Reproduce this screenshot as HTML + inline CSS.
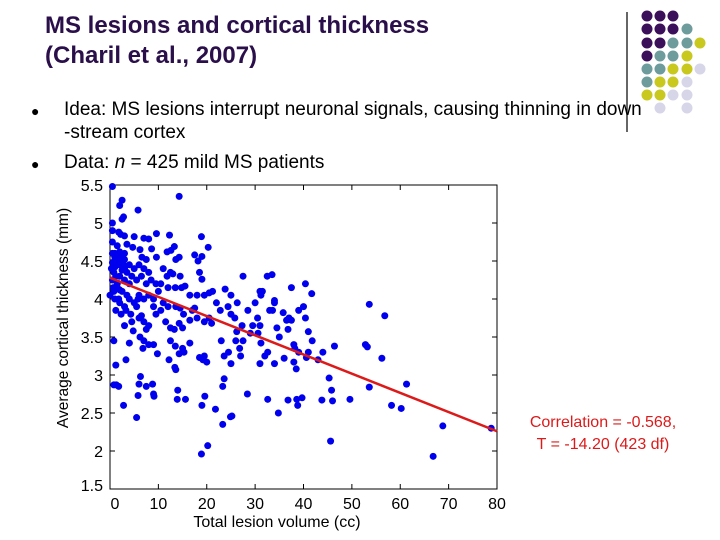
<!DOCTYPE html>
<html><head><meta charset="utf-8"><style>
body{margin:0;width:720px;height:540px;background:#fff;overflow:hidden;position:relative;font-family:"Liberation Sans",sans-serif}
.t{position:absolute;color:#2a0f4a;font-weight:bold;font-size:24px;left:45px;line-height:30px}
.b{position:absolute;font-size:19px;color:#000;line-height:22px}
</style></head><body>
<div class="t" style="top:11px">MS lesions and cortical thickness<br>(Charil et al., 2007)</div>
<div class="b" style="left:31px;top:99px;width:660px"><span style="position:absolute;left:0;font-size:14px;top:1px">●</span><span style="position:absolute;left:33px;white-space:nowrap">Idea: MS lesions interrupt neuronal signals, causing thinning in down</span><span style="position:absolute;left:33px;top:23px;white-space:nowrap">-stream cortex</span></div>
<div class="b" style="left:31px;top:152px;white-space:nowrap"><span style="position:absolute;left:0;font-size:14px;top:1px">●</span><span style="position:absolute;left:33px">Data: <i>n</i> = 425 mild MS patients</span></div>
<svg id="deco" width="720" height="540" style="position:absolute;left:0;top:0"></svg>
<svg id="chart" width="720" height="540" style="position:absolute;left:0;top:0"></svg>
<script>
const ptsX=[0.5,14.3,2.5,2,5.8,2.8,0.5,2.5,0.5,1.8,2.2,3,5,7,8,9.6,12.3,18.9,0.5,1.5,3.5,4.7,6.2,8.6,11.8,13.3,20.3,12.6,17.5,18.2,19,9.6,13.6,14.3,6.6,7.5,0.5,1,1.5,2,2.5,3,3.5,4,5,6,7,8,0.3,0.8,1.2,0.5,2,3,4.5,5.5,6.5,7.5,8.5,9.5,11,11.8,12.5,13,14.5,18.5,19,0,0.8,1.5,2.5,3.5,1,2,3,4,5,6,7,8,9,10,11,12,13.5,14.8,15.5,10.5,9,5.8,1.2,2.3,3.3,4.3,5.5,3,4.5,6,7,8,6.5,7.5,9.5,10.5,11.5,12.5,13.3,14.3,15,16.5,17,18,19.5,20.5,21,17.5,16.5,18,19.5,20.5,21.2,14.5,15.2,13.6,12,4.8,6.2,7,8,9,6.8,4,0.8,3.3,1.2,9.8,12.2,12.5,13.5,14.3,15,15.3,16.5,13.4,13.6,18.5,19.2,20,19.5,0.8,1.3,1.8,6.3,6,7.5,8.8,9,9.1,5.8,14,13.9,15.6,19.6,19,2.8,5.5,21.8,23.6,23.3,23.3,24.9,25.2,18.9,20.2,23,23.6,24.5,25,22.8,22,23.8,24.4,25,25.8,25,26.3,26.2,26,26.8,27,27.3,27.5,27.5,28.5,29,29.5,30,30.5,30.6,31,31.2,31.5,31,31.2,31,32,32.6,32.5,33.5,33,33.6,34,34,34,34.5,35,28.4,32.6,34.8,35.8,36,36.5,36.8,37,37.5,37.5,38,38,38.5,39,38.2,39,40,40.4,40.4,40.6,41,41,41.7,41.8,43,44,36.8,38.6,38.8,39.7,43.8,45.3,45.8,46,46.4,45.6,49.6,52.8,53.2,53.6,53.6,56.2,56.8,58.2,60.2,61.3,66.8,68.8,78.8,1,2,3,1.5,2.5,0.5,1,2,3,1.5,4,2,0.7,1.8,2.8];
const ptsY=[5.48,5.35,5.3,5.23,5.17,5.08,5.0,5.05,4.9,4.88,4.85,4.83,4.82,4.8,4.79,4.86,4.84,4.82,4.75,4.7,4.72,4.68,4.65,4.66,4.62,4.69,4.68,4.64,4.58,4.5,4.56,4.55,4.52,4.55,4.55,4.52,4.6,4.55,4.5,4.45,4.5,4.4,4.35,4.45,4.4,4.45,4.4,4.35,4.4,4.35,4.3,4.25,4.3,4.25,4.3,4.25,4.3,4.2,4.25,4.2,4.4,4.3,4.35,4.33,4.3,4.35,4.26,4.05,4.1,4.15,4.1,4.05,4.0,3.95,3.9,4.0,3.95,4.05,4.0,4.05,4.0,4.1,3.95,4.15,4.15,4.15,4.17,4.2,3.9,4.0,3.85,3.8,3.85,3.8,3.9,3.65,3.7,3.75,3.7,3.65,3.78,3.6,3.8,3.85,3.7,3.62,3.6,3.68,3.62,3.72,3.85,3.75,3.7,3.75,3.68,3.88,4.05,4.05,4.05,4.08,4.1,3.88,3.8,3.9,3.9,3.58,3.5,3.45,3.4,3.4,3.35,3.42,3.45,3.2,3.13,3.28,3.2,3.45,3.38,3.28,3.35,3.3,3.42,3.1,3.07,3.23,3.2,3.17,3.25,2.87,2.87,2.85,2.98,2.88,2.85,2.88,2.75,2.72,2.73,2.8,2.68,2.68,2.72,2.6,2.6,2.44,2.55,2.95,2.85,2.35,2.45,2.46,1.96,2.07,3.45,3.25,3.3,3.15,3.85,3.95,4.13,3.9,3.8,3.75,4.05,3.95,3.57,3.45,3.35,3.25,3.65,3.45,4.3,3.85,3.55,3.65,3.95,3.75,3.55,4.1,4.05,4.1,3.65,3.42,3.15,3.25,3.3,4.3,4.32,3.85,3.85,3.98,3.95,3.15,3.62,3.5,2.75,2.68,2.5,3.82,3.22,3.72,3.6,3.75,3.72,4.15,3.4,3.17,3.08,3.85,3.35,3.3,3.9,4.2,3.75,3.23,3.3,3.57,4.07,3.45,3.2,3.3,2.67,2.68,2.6,2.7,2.67,2.96,2.8,2.66,3.38,2.13,2.68,3.4,3.37,3.93,2.84,3.22,3.78,2.6,2.56,2.88,1.93,2.33,2.3,4.6,4.55,4.6,4.45,4.38,4.48,4.42,4.62,4.52,4.2,4.2,4.12,4.15,4.0,4.45];
const fitX=[0,80];
const fitY=[4.28,2.26];
const xTicks=[0,10,20,30,40,50,60,70,80];
const yTicks=[1.5,2,2.5,3,3.5,4,4.5,5,5.5];
const yTickLabels=["1.5","2","2.5","3","3.5","4","4.5","5","5.5"];
const NS="http://www.w3.org/2000/svg";
const L=110,R=497,T=185,B=489;
const sx=v=>L+(v-0)/80*(R-L), sy=v=>B-(v-1.5)/4*(B-T);
const svg=document.getElementById('chart');
function mk(tag,at,p){const e=document.createElementNS(NS,tag);for(const k in at)e.setAttribute(k,at[k]);(p||svg).appendChild(e);return e;}
let e=mk('rect',{x:L,y:T,width:R-L,height:B-T,fill:'none',stroke:'#000','stroke-width':1});


xTicks.forEach(v=>{const x=sx(v);
 let t=mk('line',{x1:x,x2:x,y1:B,y2:B-5,stroke:'#000'});
 t=mk('line',{x1:x,x2:x,y1:T,y2:T+5,stroke:'#000'});
 const tx=mk('text',{x:x+(v===0?5:0),y:509,'text-anchor':'middle','font-size':16,'font-family':'Liberation Sans, sans-serif'});tx.textContent=v;
 });
yTicks.forEach((v,i)=>{const y=sy(v);
 let t=mk('line',{x1:L,x2:L+5,y1:y,y2:y,stroke:'#000'});
 t=mk('line',{x1:R,x2:R-5,y1:y,y2:y,stroke:'#000'});
 const tx=mk('text',{x:103,y:y+(i===0?2:6),'text-anchor':'end','font-size':16,'font-family':'Liberation Sans, sans-serif'});tx.textContent=yTickLabels[i];
 });
const g=mk('g',{fill:'#0000ee'});

ptsX.forEach((x,i)=>{const c=mk('circle',{cx:sx(x),cy:sy(ptsY[i]),r:3.5},g);
 });
e=mk('line',{x1:sx(fitX[0]),y1:sy(fitY[0]),x2:sx(fitX[1]),y2:sy(fitY[1]),stroke:'#dd1a1a','stroke-width':2.5});

e=mk('text',{x:277,y:527,'text-anchor':'middle','font-size':16,'font-family':'Liberation Sans, sans-serif'});e.textContent='Total lesion volume (cc)';

e=mk('text',{x:0,y:0,transform:'translate(68,318) rotate(-90)','text-anchor':'middle','font-size':15.5,'font-family':'Liberation Sans, sans-serif'});e.textContent='Average cortical thickness (mm)';

e=mk('rect',{x:514,y:407,width:174,height:50,fill:'#fff'});

e=mk('text',{x:603,y:427,'text-anchor':'middle','font-size':16,fill:'#dd1a1a','font-family':'Liberation Sans, sans-serif'});e.textContent='Correlation = -0.568,';

e=mk('text',{x:603,y:449,'text-anchor':'middle','font-size':16,fill:'#dd1a1a','font-family':'Liberation Sans, sans-serif'});e.textContent='T = -14.20 (423 df)';

const d=document.getElementById('deco');
const C={P:'#3c0f5a',T:'#6e9c9c',Y:'#c8c81e',L:'#d6d6e8'};
const rows=['PPP','PPPT','PPTTY','PTTY','TTYYL','TYYL','YYLL','.L.L'];
const cx=[647,660,673,687,700],ry=[16,29,43,56,69,82,95,108];
let ln=document.createElementNS(NS,'line');
[['x1',627],['x2',627],['y1',12],['y2',132],['stroke','#000'],['stroke-width',1.2]].forEach(a=>ln.setAttribute(a[0],a[1]));d.appendChild(ln);
rows.forEach((r,i)=>[...r].forEach((ch,j)=>{if(ch==='.')return;const c=document.createElementNS(NS,'circle');
 c.setAttribute('cx',cx[j]);c.setAttribute('cy',ry[i]);c.setAttribute('r',5.5);c.setAttribute('fill',C[ch]);
 
 
 d.appendChild(c);}));
</script>
</body></html>
